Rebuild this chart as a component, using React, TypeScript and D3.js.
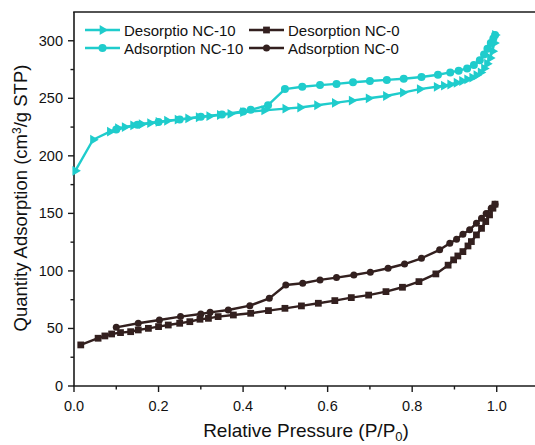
import React from "react";
import * as d3 from "d3";

// Relative pressure (P/P0) and quantity adsorbed (cm³/g STP) for each branch
const nc10LowerP = [0.003, 0.045, 0.085, 0.104, 0.12, 0.14, 0.16, 0.18, 0.2, 0.22, 0.245, 0.27, 0.295, 0.32, 0.345, 0.37, 0.4, 0.45, 0.5, 0.535, 0.575, 0.617, 0.657, 0.697, 0.738, 0.778, 0.818, 0.858, 0.875, 0.89, 0.905, 0.918, 0.93, 0.942, 0.952, 0.962, 0.97, 0.977, 0.984, 0.99, 0.994, 0.996];
const nc10LowerV = [187, 214, 221, 224, 225, 226.5, 227.5, 228.5, 229.5, 230.5, 231.5, 232.5, 233.5, 234.5, 235.5, 236.5, 238, 239.5, 241, 242, 244, 246, 248, 250, 252, 255, 258, 260, 261, 262, 263.5, 265, 266.5, 268, 270, 272.5, 276, 280, 285, 291, 298, 305];
const nc10UpperP = [0.1, 0.15, 0.2, 0.25, 0.3, 0.35, 0.4, 0.418, 0.459, 0.499, 0.54, 0.582, 0.621, 0.66, 0.7, 0.74, 0.78, 0.822, 0.861, 0.89, 0.91, 0.93, 0.946, 0.96, 0.97, 0.978, 0.986, 0.992, 0.996];
const nc10UpperV = [223, 227, 229.5, 231.5, 234, 236, 238.5, 240, 244, 258, 260, 261.5, 262.5, 264, 265, 266, 267, 268.5, 270.5, 272.5, 274, 276, 279, 283, 288, 293, 298, 302, 305];

const nc0LowerP = [0.016, 0.057, 0.073, 0.089, 0.11, 0.134, 0.152, 0.176, 0.2, 0.223, 0.25, 0.274, 0.298, 0.318, 0.341, 0.377, 0.418, 0.46, 0.499, 0.538, 0.578, 0.617, 0.656, 0.697, 0.738, 0.777, 0.816, 0.856, 0.885, 0.898, 0.908, 0.92, 0.932, 0.94, 0.952, 0.964, 0.974, 0.983, 0.991, 0.996];
const nc0LowerV = [35.7, 41.5, 43.5, 45.2, 46.4, 47.2, 48.7, 50.1, 51.6, 53, 54.5, 55.9, 58, 58.8, 60.3, 61.7, 63.2, 65.5, 67.5, 69.6, 71.9, 74.2, 76.8, 79, 82, 85.8, 90.7, 97.4, 105, 109.6, 113, 116.8, 121.7, 125.5, 131.3, 137, 142.9, 148.7, 154.5, 158];
const nc0UpperP = [0.1, 0.152, 0.202, 0.252, 0.3, 0.322, 0.365, 0.416, 0.462, 0.501, 0.541, 0.582, 0.621, 0.662, 0.701, 0.743, 0.782, 0.822, 0.865, 0.889, 0.905, 0.92, 0.936, 0.952, 0.964, 0.975, 0.987, 0.996];
const nc0UpperV = [51, 54.5, 57.4, 60.3, 62.6, 64, 66, 69.8, 76.2, 87.8, 89.3, 92.2, 94.2, 96.5, 98.9, 102.3, 106, 111, 118.3, 124, 127.6, 131.9, 135.7, 141.5, 145.8, 150, 154.5, 158];

const legendLabels = ["Desorptio NC-10", "Adsorption NC-10", "Desorption NC-0", "Adsorption NC-0"];
const xTicks = [0, 0.2, 0.4, 0.6, 0.8, 1.0];
const xMinorTicks = [0.1, 0.3, 0.5, 0.7, 0.9];
const yTicks = [0, 50, 100, 150, 200, 250, 300];
const yMinorTicks = [25, 75, 125, 175, 225, 275];

const W = 535;
const H = 445;
const CYAN = "#1fcccc";
const DARK = "#33201f";
const FONT = "Liberation Sans, Arial, sans-serif";

const x = d3.scaleLinear().domain([0, 1.1]).range([74, 539]);
const y = d3.scaleLinear().domain([0, 325]).range([386, 12]);

type Pt = [number, number];
const zip = (p: number[], v: number[]): Pt[] => p.map((d, i) => [d, v[i]]);

const line = d3
  .line<Pt>()
  .x((d) => x(d[0]))
  .y((d) => y(d[1]));

const triPath = d3.symbol(d3.symbolTriangle, 42)() as string;
const squarePath = d3.symbol(d3.symbolSquare, 46)() as string;

type Shape = "tri" | "circle" | "square";

function Marker({ cx, cy, shape, color, r }: { cx: number; cy: number; shape: Shape; color: string; r: number }) {
  if (shape === "circle") return <circle cx={cx} cy={cy} r={r} fill={color} />;
  if (shape === "square") return <path d={squarePath} transform={`translate(${cx},${cy})`} fill={color} />;
  return <path d={triPath} transform={`translate(${cx},${cy}) rotate(90)`} fill={color} />;
}

function Series({ pts, color, shape, r }: { pts: Pt[]; color: string; shape: Shape; r: number }) {
  return (
    <g>
      <path d={line(pts) as string} fill="none" stroke={color} strokeWidth={2.4} strokeLinejoin="round" />
      {pts.map((d, i) => (
        <Marker key={i} cx={x(d[0])} cy={y(d[1])} shape={shape} color={color} r={r} />
      ))}
    </g>
  );
}

export default function App() {
  const series = [
    { pts: zip(nc10LowerP, nc10LowerV), color: CYAN, shape: "tri" as Shape, r: 4 },
    { pts: zip(nc10UpperP, nc10UpperV), color: CYAN, shape: "circle" as Shape, r: 4 },
    { pts: zip(nc0LowerP, nc0LowerV), color: DARK, shape: "square" as Shape, r: 3.6 },
    { pts: zip(nc0UpperP, nc0UpperV), color: DARK, shape: "circle" as Shape, r: 3.5 },
  ];
  const legendPos = [
    { lx: 85, ty: 30 },
    { lx: 85, ty: 48 },
    { lx: 249, ty: 30 },
    { lx: 249, ty: 48 },
  ];
  const axisColor = "#1a1a1a";
  return (
    <svg
      width={W}
      height={H}
      style={{ position: "absolute", left: 0, top: 0, background: "#fff" }}
      fontFamily={FONT}
    >
      <rect width={W} height={H} fill="#fff" />
      {/* frame: left, bottom and top lines */}
      <line x1={x(0)} x2={x(0)} y1={y.range()[1]} y2={y(0)} stroke={axisColor} strokeWidth={1.6} />
      <line x1={x(0) - 0.8} x2={W + 10} y1={y(0)} y2={y(0)} stroke={axisColor} strokeWidth={1.6} />
      <line x1={x(0) - 0.8} x2={W + 10} y1={y.range()[1]} y2={y.range()[1]} stroke={axisColor} strokeWidth={1.6} />

      {xTicks.map((t) => (
        <g key={`xt${t}`}>
          <line x1={x(t)} x2={x(t)} y1={y(0)} y2={y(0) + 6} stroke={axisColor} strokeWidth={1.4} />
          <text x={x(t)} y={411} fontSize={14.5} textAnchor="middle" fill="#111">
            {t.toFixed(1)}
          </text>
        </g>
      ))}
      {xMinorTicks.map((t) => (
        <line key={`xm${t}`} x1={x(t)} x2={x(t)} y1={y(0)} y2={y(0) + 3.5} stroke={axisColor} strokeWidth={1.4} />
      ))}
      {yTicks.map((t) => (
        <g key={`yt${t}`}>
          <line x1={x(0) - 6} x2={x(0)} y1={y(t)} y2={y(t)} stroke={axisColor} strokeWidth={1.4} />
          <text x={x(0) - 11} y={y(t) + 5} fontSize={14.5} textAnchor="end" fill="#111">
            {t}
          </text>
        </g>
      ))}
      {yMinorTicks.map((t) => (
        <line key={`ym${t}`} x1={x(0) - 3.5} x2={x(0)} y1={y(t)} y2={y(t)} stroke={axisColor} strokeWidth={1.4} />
      ))}

      {/* axis titles */}
      <text x={306} y={437} fontSize={19} textAnchor="middle" fill="#111">
        Relative Pressure (P/P
        <tspan fontSize={13} dy={3.5}>0</tspan>
        <tspan dy={-3.5}>)</tspan>
      </text>
      <text transform="translate(27,198) rotate(-90)" fontSize={18.5} textAnchor="middle" fill="#111">
        Quantity Adsorption (cm
        <tspan fontSize={12} dy={-6.5}>3</tspan>
        <tspan dy={6.5}>/g STP)</tspan>
      </text>

      {/* isotherm branches */}
      {series.map((s, i) => (
        <Series key={i} {...s} />
      ))}

      {/* legend */}
      {series.map((s, i) => {
        const { lx, ty } = legendPos[i];
        return (
          <g key={`lg${i}`}>
            <line x1={lx} x2={lx + 35} y1={ty} y2={ty} stroke={s.color} strokeWidth={2.4} />
            <Marker cx={lx + 17.5} cy={ty} shape={s.shape} color={s.color} r={s.r} />
            <text x={lx + 39} y={ty + 5.5} fontSize={15} fill="#111">
              {legendLabels[i]}
            </text>
          </g>
        );
      })}
    </svg>
  );
}
